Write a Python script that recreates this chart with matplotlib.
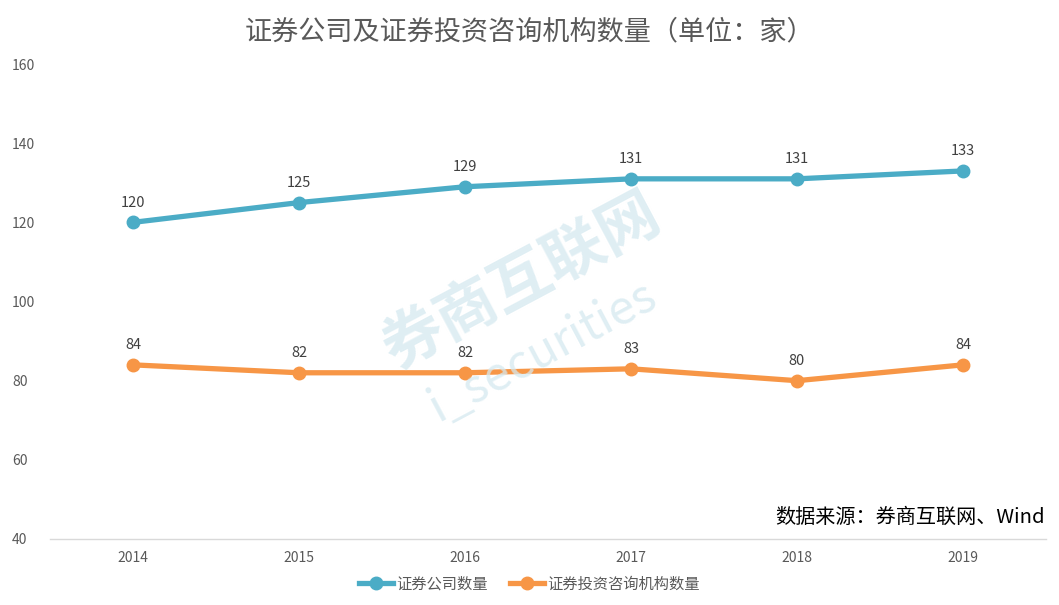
import matplotlib
matplotlib.use('Agg')
import matplotlib.pyplot as plt

plt.rcParams['font.family'] = ['Noto Sans CJK SC', 'DejaVu Sans']

years = ['2014', '2015', '2016', '2017', '2018', '2019']
brokers = [120, 125, 129, 131, 131, 133]
advisers = [84, 82, 82, 83, 80, 84]
yticks = [40, 60, 80, 100, 120, 140, 160]

blue = '#4BACC6'
orange = '#F79646'

fig = plt.figure(figsize=(10.59, 6.05), dpi=100)
ax = fig.add_axes([0.0472, 0.1091, 0.9405, 0.785])

x = list(range(len(years)))
ax.plot(x, brokers, color=blue, lw=3.8, marker='o', ms=9, label='证券公司数量', zorder=3)
ax.plot(x, advisers, color=orange, lw=3.8, marker='o', ms=9, label='证券投资咨询机构数量', zorder=3)

for i, v in enumerate(brokers):
    ax.annotate(str(v), (i, v), xytext=(0, 9), textcoords='offset points',
                ha='center', va='bottom', fontsize=10.5, color='#404040')
for i, v in enumerate(advisers):
    ax.annotate(str(v), (i, v), xytext=(0, 9), textcoords='offset points',
                ha='center', va='bottom', fontsize=10.5, color='#404040')

ax.set_xlim(-0.5, 5.5)
ax.set_ylim(40, 160)
ax.set_xticks(x)
ax.set_xticklabels(years)
ax.set_yticks(yticks)
ax.tick_params(axis='both', length=0, labelsize=10, labelcolor='#595959')
ax.tick_params(axis='x', pad=9)
ax.tick_params(axis='y', pad=0)
for lab in ax.get_yticklabels():
    lab.set_horizontalalignment('left')
    lab.set_x(-0.038)
for s in ['top', 'right', 'left']:
    ax.spines[s].set_visible(False)
ax.spines['bottom'].set_color('#D9D9D9')
ax.spines['bottom'].set_linewidth(1)

# watermark
fig.text(0.492, 0.535, '券商互联网', fontsize=44, fontweight='bold', color='#D5E9F0',
         alpha=0.75, rotation=28, ha='center', va='center', zorder=0)
fig.text(0.512, 0.42, 'i_securities', fontsize=34, color='#D5E9F0',
         alpha=0.75, rotation=28, ha='center', va='center', zorder=0)

fig.text(0.5, 0.948, '证券公司及证券投资咨询机构数量（单位：家）', fontsize=19.5,
         color='#595959', ha='center', va='center')
fig.text(0.987, 0.145, '数据来源：券商互联网、Wind', fontsize=14.5,
         color='#000000', ha='right', va='center')

ax.legend(loc='center', frameon=False, fontsize=11, ncol=2, handlelength=2.2,
          handletextpad=0.2, columnspacing=1.5, labelcolor='#595959')
leg = ax.get_legend()
leg.set_bbox_to_anchor((0.5, 0.035), transform=fig.transFigure)

fig.savefig('out.png', dpi=100)
